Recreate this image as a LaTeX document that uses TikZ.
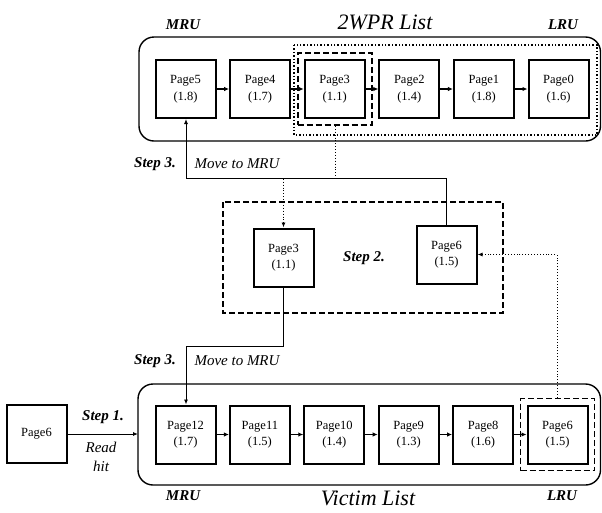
\documentclass[tikz,border=0pt]{standalone}
\usepackage{fontspec}
\setmainfont{Liberation Serif}
\usetikzlibrary{arrows.meta,fit}

\begin{document}
\begin{tikzpicture}[x=1pt,y=-1pt,
  pagebox/.style={draw,line width=2pt,minimum width=60pt,minimum height=58pt,
    inner sep=0pt,align=center,font=\fontsize{12.5}{16.5}\selectfont},
  listbox/.style={draw,line width=1.4pt,rounded corners=15pt},
  dashbox/.style={draw,line width=1.8pt,dash pattern=on 6pt off 3pt},
  dotbox/.style={draw,line width=1.4pt,dotted},
  link/.style={line width=1.8pt,-{Latex[length=5pt,width=4.5pt]}},
  move/.style={line width=0.9pt,-{Latex[length=5pt,width=4pt]}},
  stepl/.style={font=\fontsize{15}{18}\selectfont\bfseries\itshape},
  notel/.style={font=\fontsize{15}{19}\selectfont\itshape,align=center},
  titlel/.style={font=\fontsize{22}{24}\selectfont\itshape,anchor=base}]
\useasboundingbox (0,0) rectangle (602,512);

% 2WPR list
\draw[listbox] (139,37) rectangle (600.5,141);
\node[titlel] (wprtitle) at (385,29) {2WPR List};
\node[stepl] (wprmru) at (183,25) {MRU};
\node[stepl] (wprlru) at (563,25) {LRU};
\foreach \name/\val [count=\i from 0] in {5/1.8,4/1.7,3/1.1,2/1.4,1/1.8,0/1.6}
  \node[pagebox] (t\i) at ({185.5+74.6*\i},89) {Page\name\\(\val)};
\foreach \i in {0,...,4}{
  \pgfmathtruncatemacro\j{\i+1}
  \draw[link] (t\i) -- (t\j);
}
\draw[dotbox] (294,45) rectangle (597,135);
\node[dashbox,fit=(t2),inner sep=6pt] (tsel) {};

% victim list
\draw[listbox] (138,384) rectangle (600.5,485);
\node[titlel] (victitle) at (368,505) {Victim List};
\node[stepl] (vicmru) at (183,496) {MRU};
\node[stepl] (viclru) at (562,496) {LRU};
\foreach \name/\val [count=\i from 0] in {12/1.7,11/1.5,10/1.4,9/1.3,8/1.6,6/1.5}
  \node[pagebox] (v\i) at ({185.5+74.4*\i},434.5) {Page\name\\(\val)};
\foreach \i in {0,...,4}{
  \pgfmathtruncatemacro\j{\i+1}
  \draw[link] (v\i) -- (v\j);
}
\node[dashbox,fit=(v5),inner sep=6pt] (vsel) {};

% read hit
\node[pagebox] (hit) at (36.5,434) {Page6};
\coordinate (vicin) at (138,434);
\draw[move] (hit) -- (vicin);
\node[stepl] (step1) at (103,417) {Step 1.};
\node[notel] (readhit) at (101,457) {Read\\hit};

% step 2: swap
\draw[dashbox] (223,202) rectangle (503,313);
\node[pagebox] (m3) at (283.5,257.5) {Page3\\(1.1)};
\node[pagebox] (m6) at (446.5,254.5) {Page6\\(1.5)};
\node[stepl] (step2) at (364,258) {Step 2.};

% step 3: move to MRU
\draw[move] (m6.north) |- (186,178) -- (t0.south -| 186,0);
\draw[move,dotted] (tsel.south -| 335,0) -- (335,178) -| (m3.north);
\draw[move] (m3.south) |- (186,346) -- (v0.north -| 186,0);
\draw[move,dotted] (vsel.north -| 557,0) |- (m6.east);
\node[stepl] (step3a) at (155,164) {Step 3.};
\node[notel] (move3a) at (237,164) {Move to MRU};
\node[stepl] (step3b) at (155,361) {Step 3.};
\node[notel] (move3b) at (237,361) {Move to MRU};
\end{tikzpicture}
\end{document}
